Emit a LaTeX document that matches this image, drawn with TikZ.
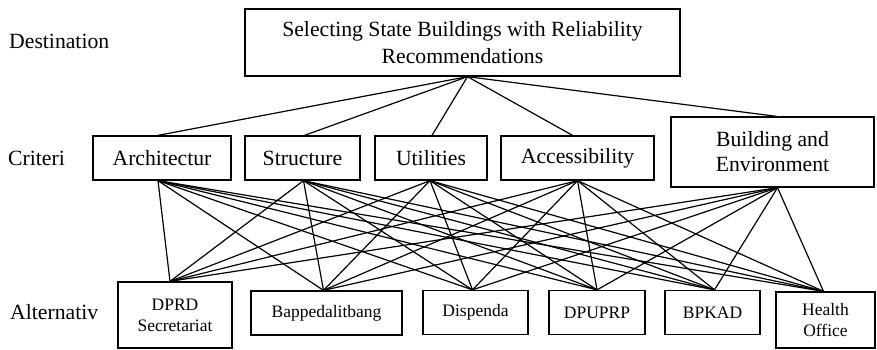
\documentclass[tikz,border=0pt]{standalone}
\usepackage{fontspec}
\setmainfont{Liberation Serif}
\begin{document}
\begin{tikzpicture}[x=1pt,y=-1pt,
  box/.style={draw,line width=1.3pt,inner sep=0pt,align=center,font=\fontsize{21.7}{25}\selectfont},
  altbox/.style={draw,line width=1.3pt,inner sep=0pt,align=center,font=\fontsize{17.5}{21}\selectfont},
  lab/.style={anchor=west,inner sep=0pt,font=\fontsize{21.7}{25}\selectfont},
  link/.style={line width=1.2pt}]
\useasboundingbox (0,0) rectangle (877,349);
% labels
\node[lab] (ldest) at (9,41) {Destination};
\node[lab] (lcrit) at (8,158) {Criteri};
\node[lab] (lalt) at (10,312) {Alternativ};
% goal
\node[box,minimum width=435pt,minimum height=67pt] (goal) at (462.5,42.5) {Selecting State Buildings with Reliability\\[2pt]Recommendations};
% criteria
\node[box,minimum width=138pt,minimum height=44pt] (arch) at (162,158) {Architectur};
\node[box,minimum width=115pt,minimum height=44pt] (stru) at (302.5,158) {Structure};
\node[box,minimum width=112pt,minimum height=44pt] (util) at (431,158) {Utilities};
\node[box,minimum width=153pt,minimum height=44pt] (acce) at (577.5,158) {Accessibility};
\node[box,minimum width=203pt,minimum height=70pt] (buil) at (772.5,152) {Building and\\Environment};
% alternatives
\node[altbox,minimum width=114pt,minimum height=66pt] (dprd) at (175,315) {DPRD\\Secretariat};
\node[altbox,minimum width=151pt,minimum height=44pt] (bapp) at (326.5,313) {Bappedalitbang};
\node[altbox,minimum width=105pt,minimum height=44pt] (disp) at (475.5,312.5) {Dispenda};
\node[altbox,minimum width=96pt,minimum height=44pt] (dpup) at (597,312.5) {DPUPRP};
\node[altbox,minimum width=95pt,minimum height=44pt] (bpka) at (712.5,312.5) {BPKAD};
\node[altbox,minimum width=99pt,minimum height=56pt] (heal) at (825.5,320) {Health\\Office};
% connection points
\coordinate (g) at ([xshift=5pt]goal.south);
\coordinate (at) at ([xshift=-4pt]arch.north);
\coordinate (ab) at ([xshift=-4pt]arch.south);
\coordinate (st) at ([xshift=2pt]stru.north);
\coordinate (sb) at ([xshift=1pt]stru.south);
\coordinate (ut) at ([xshift=1pt]util.north);
\coordinate (ub) at ([xshift=-1pt]util.south);
\coordinate (act) at ([xshift=-5pt]acce.north);
\coordinate (acb) at (acce.south);
\coordinate (bt) at ([xshift=4pt]buil.north);
\coordinate (bb) at ([xshift=5pt]buil.south);
\coordinate (a1) at ([xshift=-5pt]dprd.north);
\coordinate (a2) at ([xshift=-3pt]bapp.north);
\coordinate (a3) at ([xshift=-3pt]disp.north);
\coordinate (a4) at (dpup.north);
\coordinate (a5) at ([xshift=2pt]bpka.north);
\coordinate (a6) at ([xshift=-2pt]heal.north);
% goal to criteria
\foreach \c in {at,st,ut,act,bt} \draw[link] (g) -- (\c);
% criteria to alternatives
\foreach \c in {ab,sb,ub,acb,bb}
  \foreach \a in {a1,a2,a3,a4,a5,a6}
    \draw[link] (\c) -- (\a);
\end{tikzpicture}
\end{document}
